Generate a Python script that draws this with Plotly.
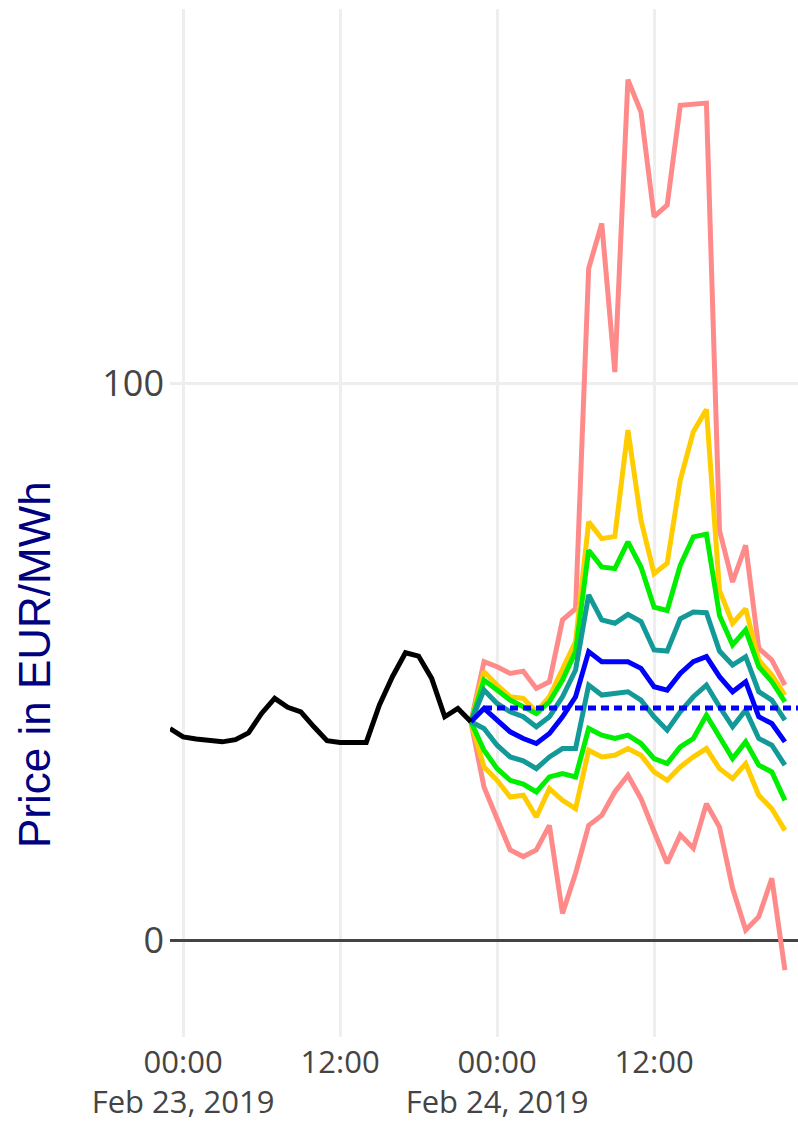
import plotly.graph_objects as go
import pandas as pd

# ---- data ----
hist_start = "2019-02-22 23:00"
hist_prices = [38.0, 36.5, 36.1, 35.9, 35.6, 36.0, 37.2, 40.7, 43.4, 41.8, 41.0, 38.3,
               35.8, 35.5, 35.5, 35.5, 42.2, 47.3, 51.6, 51.0, 47.0, 40.1, 41.6, 39.2]

fc_start = "2019-02-23 22:00"
pink_upper = [39.2, 50.0, 49.1, 47.9, 48.3, 45.2, 46.4, 57.5, 59.5, 120.6, 128.7, 102.0, 154.5,
              148.7, 129.9, 132.0, 149.9, 150.1, 150.3, 73.6, 64.3, 70.9, 52.4, 50.3, 45.8]
gold_upper = [39.2, 48.2, 45.8, 43.7, 43.4, 41.0, 43.7, 48.8, 53.6, 75.1, 72.1, 72.5, 91.6,
              75.4, 65.8, 67.7, 82.6, 91.3, 95.3, 62.8, 56.9, 59.5, 50.3, 47.6, 44.0]
green_upper = [39.2, 46.7, 44.9, 43.1, 41.9, 40.7, 42.8, 46.7, 51.8, 70.0, 67.0, 66.7, 71.5,
               67.0, 59.8, 59.2, 67.3, 72.4, 72.9, 58.3, 53.0, 55.7, 49.1, 46.4, 42.8]
teal_upper = [39.2, 44.9, 42.5, 41.0, 40.1, 38.3, 40.1, 43.7, 48.5, 62.0, 57.5, 56.9, 58.5,
              57.2, 52.1, 51.9, 57.7, 58.9, 58.8, 51.9, 49.4, 50.9, 44.6, 43.1, 39.5]
median = [39.2, 41.6, 39.5, 37.4, 36.2, 35.3, 37.1, 40.1, 43.7, 51.8, 50.0, 50.1, 50.0,
          48.8, 45.5, 44.9, 47.9, 50.0, 50.9, 47.3, 44.6, 46.4, 40.1, 38.9, 35.6]
teal_lower = [39.2, 38.0, 35.0, 32.9, 32.2, 30.8, 32.9, 34.4, 34.4, 45.8, 44.0, 44.3, 44.6,
              43.1, 40.1, 37.7, 41.0, 43.7, 45.8, 41.9, 38.3, 41.3, 36.2, 35.0, 31.4]
green_lower = [39.2, 34.1, 30.8, 28.7, 28.0, 26.6, 29.3, 29.9, 29.3, 38.0, 36.8, 36.2, 36.8,
               35.3, 32.6, 31.7, 34.7, 36.2, 40.4, 36.5, 32.6, 35.6, 31.4, 30.2, 25.1]
gold_lower = [39.2, 31.1, 28.7, 25.7, 26.0, 22.1, 27.2, 25.1, 23.6, 34.1, 32.9, 33.2, 34.4,
              33.2, 30.2, 28.7, 31.1, 32.9, 34.4, 30.8, 29.0, 31.7, 26.0, 23.6, 19.7]
pink_lower = [39.2, 27.5, 21.8, 16.2, 15.0, 16.2, 20.6, 4.8, 12.0, 20.6, 22.4, 26.6, 29.6,
              25.4, 19.5, 13.8, 18.9, 16.5, 24.5, 20.3, 9.3, 1.8, 4.2, 11.1, -5.4]

ref_start = "2019-02-23 23:00"
ref_level = 41.7
ref_hours = 25

y_tick_vals = [0, 100]
y_tick_text = ["0", "100"]

# ---- figure ----
hist_x = pd.date_range(hist_start, periods=len(hist_prices), freq="h")
fc_x = pd.date_range(fc_start, periods=len(median), freq="h")
ref_x = pd.date_range(ref_start, periods=ref_hours, freq="h")

fig = go.Figure()
W = 5
bands = [
    (pink_upper, "#ff8a8a"), (pink_lower, "#ff8a8a"),
    (gold_upper, "#ffcc00"), (gold_lower, "#ffcc00"),
    (green_upper, "#00ee00"), (green_lower, "#00ee00"),
    (teal_upper, "#149999"), (teal_lower, "#149999"),
]
for vals, col in bands:
    fig.add_trace(go.Scatter(x=fc_x, y=vals, mode="lines",
                             line=dict(color=col, width=W), showlegend=False))
fig.add_trace(go.Scatter(x=fc_x, y=median, mode="lines",
                         line=dict(color="#0000ff", width=W), showlegend=False))
fig.add_trace(go.Scatter(x=ref_x, y=[ref_level] * ref_hours, mode="lines",
                         line=dict(color="#0000ff", width=W, dash="8px,5px"), showlegend=False))
fig.add_trace(go.Scatter(x=hist_x, y=hist_prices, mode="lines",
                         line=dict(color="#000000", width=W), showlegend=False))

fig.update_layout(
    width=798, height=1121,
    margin=dict(l=170, r=0, t=9, b=84),
    paper_bgcolor="white", plot_bgcolor="white",
    font=dict(family="Open Sans", color="#444"),
    showlegend=False,
)
fig.update_xaxes(
    range=["2019-02-22 23:00", "2019-02-24 23:00"],
    tick0="2019-02-23 00:00", dtick=12 * 3600 * 1000,
    showgrid=True, gridcolor="#eeeeee", gridwidth=2.5,
    showline=False, zeroline=False, ticks="", ticklabelstandoff=4,
    tickfont=dict(size=31, color="#444"),
)
fig.update_yaxes(
    range=[-17.4, 167.2],
    tickvals=y_tick_vals, ticktext=y_tick_text,
    showgrid=True, gridcolor="#eeeeee", gridwidth=2.5,
    zeroline=True, zerolinecolor="#444444", zerolinewidth=3,
    showline=False, ticks="", ticklabelstandoff=5,
    tickfont=dict(size=36, color="#444"),
)
fig.add_annotation(
    text="Price in EUR/MWh", xref="paper", yref="paper",
    x=-0.2166, y=0.3628, xanchor="center", yanchor="middle",
    textangle=-90, showarrow=False,
    font=dict(family="Liberation Sans", size=44, color="#000080"),
)

fig.write_html(
    "out.html",
    config={"displayModeBar": False},
    post_script="document.body.style.margin='0';"
                "document.documentElement.style.overflow='hidden';",
)
